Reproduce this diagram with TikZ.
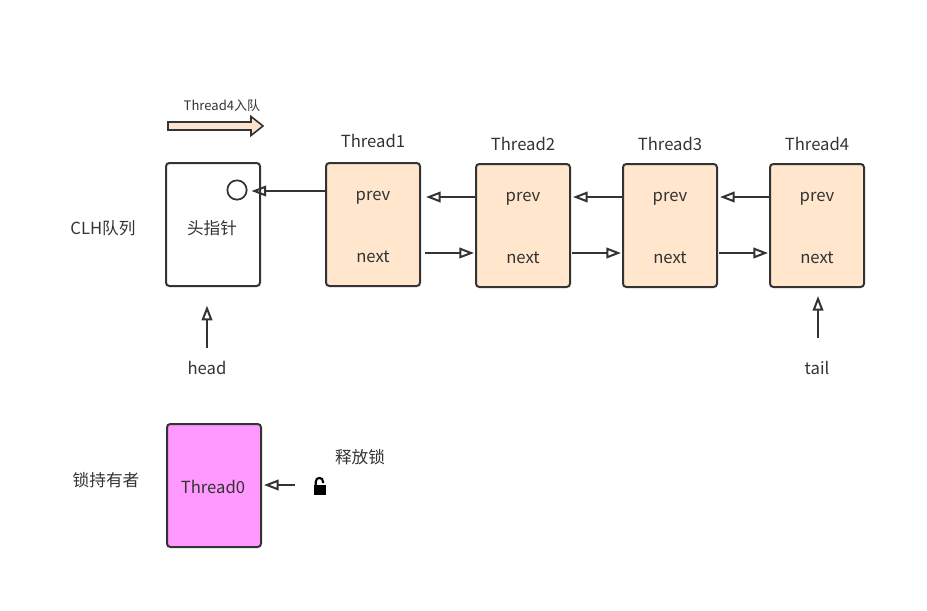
\documentclass[tikz,border=0pt]{standalone}
\usepackage{fontspec}
\setmainfont{Noto Sans CJK SC}
\usetikzlibrary{arrows.meta}
\definecolor{peach}{HTML}{FFE6CC}
\definecolor{arrowfill}{HTML}{FBE3CF}
\definecolor{pinkbox}{HTML}{FF99FF}
\definecolor{ink}{HTML}{333333}
\begin{document}
\begin{tikzpicture}[x=0.75pt,y=-0.75pt,
 box/.style={draw=ink, line width=1.5pt, rounded corners=2.5pt, minimum width=70.5pt, minimum height=92.25pt, inner sep=0pt},
 lbl/.style={font=\fontsize{12.5}{14}\selectfont, text=ink, inner sep=0pt},
 small/.style={font=\fontsize{9.8}{11}\selectfont, text=ink, inner sep=0pt},
 arr/.style={draw=ink, line width=1.5pt, -{Triangle[open,length=11pt,width=8pt,line width=1.5pt]}},
]
\useasboundingbox (0,0) rectangle (927,610);

% enqueue arrow
\node[small] (enq) at (222,106) {Thread4入队};
\draw[ink, fill=arrowfill, line width=1.2pt, line join=miter]
  (168,122) -- (251,122) -- (251,116.5) -- (263,126) -- (251,135.5) -- (251,130) -- (168,130) -- cycle;

% left labels
\node[lbl] (clh) at (103,228) {CLH队列};
\node[lbl] (owner) at (106,480) {锁持有者};

% head box
\node[box, fill=white] (hb) at (213,224.5) {};
\node[lbl] (hbtxt) at (212,228) {头指针};
\node[draw=ink, line width=1.3pt, circle, minimum size=14.5pt, inner sep=0pt] (circ) at (237,190) {};

% thread boxes
\node[box, fill=peach] (t1) at (373,224.5) {};
\node[box, fill=peach] (t2) at (523,225.5) {};
\node[box, fill=peach] (t3) at (670,225.5) {};
\node[box, fill=peach] (t4) at (817,225.5) {};

\node[lbl] (l1) at (373,141) {Thread1};
\node[lbl] (l2) at (523,144) {Thread2};
\node[lbl] (l3) at (670,144) {Thread3};
\node[lbl] (l4) at (817,144) {Thread4};

\node[lbl] (p1) at (373,198) {prev};
\node[lbl] (n1) at (373,257) {next};
\node[lbl] (p2) at (523,199) {prev};
\node[lbl] (n2) at (523,258) {next};
\node[lbl] (p3) at (670,199) {prev};
\node[lbl] (n3) at (670,258) {next};
\node[lbl] (p4) at (817,199) {prev};
\node[lbl] (n4) at (817,258) {next};

\coordinate (a1) at (326,191);
\coordinate (a2) at (476,197);
\coordinate (a3) at (623,197);
\coordinate (a4) at (770,197);
\coordinate (b1) at (420,253);
\coordinate (b2) at (570,253);
\coordinate (b3) at (717,253);

% prev arrows
\draw[arr, shorten >=3pt] (a1) -- (a1 -| circ.east);
\draw[arr, shorten >=3.75pt] (a2) -- (a2 -| t1.east);
\draw[arr, shorten >=1.5pt] (a3) -- (a3 -| t2.east);
\draw[arr, shorten >=1.5pt] (a4) -- (a4 -| t3.east);
% next arrows
\draw[arr, shorten <=3.75pt, shorten >=0.75pt] (b1) -- (b1 -| t2.west);
\draw[arr, shorten <=1.5pt, shorten >=0.75pt] (b2) -- (b2 -| t3.west);
\draw[arr, shorten <=1.5pt, shorten >=0.75pt] (b3) -- (b3 -| t4.west);

% head / tail
\node[lbl] (head) at (207,368) {head};
\node[lbl] (tail) at (817,368) {tail};
\coordinate (hs) at (207,348);
\coordinate (ts) at (818,338);
\draw[arr, shorten >=14pt] (hs) -- (hs |- hb.south);
\draw[arr, shorten >=6pt] (ts) -- (ts |- t4.south);

% lock holder
\node[box, fill=pinkbox] (t0) at (214,485.5) {};
\node[lbl] (t0txt) at (213,487) {Thread0};
\node[lbl] (rel) at (360,457) {释放锁};
\coordinate (lk) at (295,485);
\draw[arr, shorten >=1.5pt] (lk) -- (t0.east |- lk);

% open padlock
\fill[black] (313.5,485) rectangle (325.5,495);
\draw[black, line width=1.6pt] (315.8,485.5) -- (315.8,481.5) arc[start angle=180, end angle=0, x radius=3.6, y radius=-3.6] -- (323,483);
\end{tikzpicture}
\end{document}
